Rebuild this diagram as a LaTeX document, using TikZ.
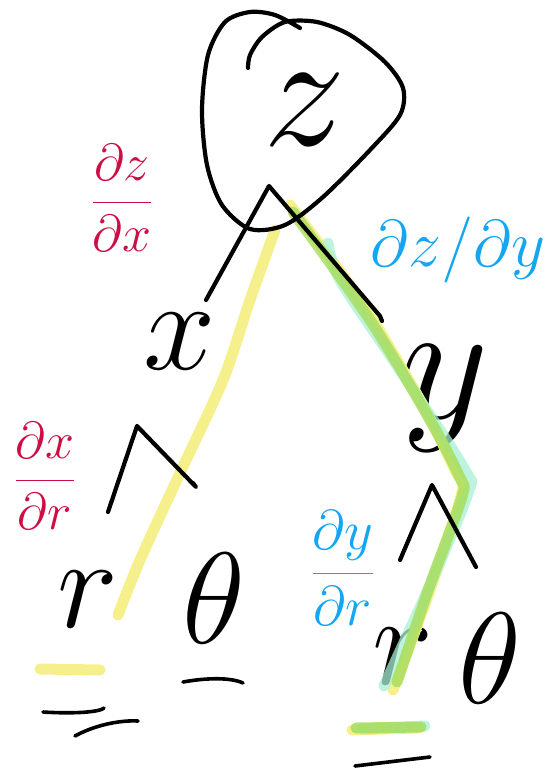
\RequirePackage{fix-cm}
\documentclass[tikz,border=0pt]{standalone}
\usepackage{amsmath}
\usetikzlibrary{positioning}
\definecolor{inkred}{HTML}{CC0E45}
\definecolor{inkblue}{HTML}{14A6F2}
\definecolor{hlyellow}{HTML}{F6F08C}
\definecolor{hlgreen}{HTML}{A6DD5C}
\definecolor{hlmint}{HTML}{A8F0D2}
\tikzset{
  ink/.style={line width=4.2pt, line cap=round, line join=round},
  hl/.style={line width=11pt, line cap=round, line join=round},
  var/.style={inner sep=0pt, font=\fontsize{130}{130}\selectfont},
  lbl/.style={inner sep=0pt, font=\fontsize{52}{52}\selectfont},
}

\begin{document}
\begin{tikzpicture}[x=1pt, y=-1pt]
\useasboundingbox (0,0) rectangle (554,774);

% variables
\node[var, font=\fontsize{165}{165}\selectfont] (z) at (305,110) {$z$};
\node[var] (x) at (180,342) {$x$};
\node[var, font=\fontsize{170}{170}\selectfont] (y) at (445,398) {$y$};
\node[var] (rl) at (88,600) {$r$};
\node[var] (tl) at (214,598) {$\theta$};
\node[var] (rr) at (403,657) {$r$};
\node[var] (tr) at (490,658) {$\theta$};

% derivative labels
\node[lbl, text=inkred] (dzdx) at (122,198) {$\dfrac{\partial z}{\partial x}$};
\node[lbl, text=inkred] (dxdr) at (45,476) {$\dfrac{\partial x}{\partial r}$};
\node[lbl, text=inkblue, font=\fontsize{66}{66}\selectfont] (dzdy) at (458,250) {$\partial z/\partial y$};
\node[lbl, text=inkblue, font=\fontsize{56}{56}\selectfont] (dydr) at (343,568) {$\dfrac{\partial y}{\partial r}$};

% branch points
\coordinate (apex) at (269,186);
\coordinate (xtop) at (206,300);
\coordinate (ytop) at (380,316);
\coordinate (xsplit) at (137,426);
\coordinate (xleft) at (108,512);
\coordinate (xright) at (196,487);
\coordinate (ysplit) at (432,485);
\coordinate (yleft) at (400,560);
\coordinate (yright) at (476,567);

% highlighted paths
\draw[hl, hlyellow] plot[smooth] coordinates {(275,230) (250,300) (223,380) (180,473) (140,560) (118,615)};
\draw[hl, hlyellow] plot[smooth] coordinates {(290,205) (360,300) (420,400) (455,470) (462,492) (430,590) (393,690)};
\draw[hl, hlmint, opacity=.75] plot[smooth] coordinates {(328,243) (340,280) (400,370) (465,470) (468,493) (430,585) (384,686)};
\draw[hl, hlgreen, opacity=.8] plot[smooth] coordinates {(293,212) (370,320) (430,420) (460,478) (462,497) (430,585) (397,682)};
\draw[hl, hlyellow] (40,669) -- (100,670);
\draw[hl, hlyellow] (352,730) -- (418,728);
\draw[hl, hlmint, opacity=.75] (362,729) -- (425,726);
\draw[hl, hlgreen, opacity=.85] (356,728) -- (421,727);

% circle round z
\draw[ink] plot[smooth] coordinates {(300,28) (275,15) (250,12) (225,22) (208,55) (202,110) (207,165) (222,205) (250,229) (285,225) (323,197) (370,150) (400,115) (403,88) (385,62) (350,35) (317,22) (285,22) (262,37) (250,55) (248,68)};

% tree
\draw[ink] (xtop) -- (apex) -- (ytop) -- ++(2,5);
\draw[ink] (xleft) -- (xsplit) -- (xright) -- ++(-3,-4);
\draw[ink] (yleft) -- (ysplit) -- (yright);

% underlines
\draw[ink, line width=3.6pt] (43,712) .. controls (75,714) and (100,712) .. (104,708);
\draw[ink, line width=3.6pt] (75,736) .. controls (95,725) and (120,720) .. (138,721);
\draw[ink, line width=3.6pt] (183,682) .. controls (205,678) and (230,677) .. (243,683);
\draw[ink, line width=3.6pt] (355,766) -- (430,757);
\end{tikzpicture}
\end{document}
